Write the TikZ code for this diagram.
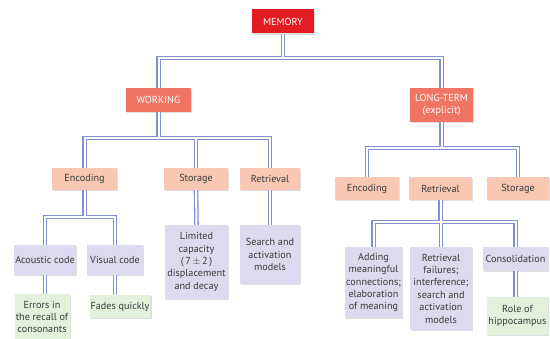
\documentclass[tikz,border=0pt]{standalone}
\usepackage{fontspec}
\setmainfont{PT Sans}
\usetikzlibrary{shadows}
\definecolor{memred}{HTML}{E31B23}
\definecolor{subred}{HTML}{EF7463}
\definecolor{peach}{HTML}{F8C8B5}
\definecolor{lav}{HTML}{DDD9EE}
\definecolor{mint}{HTML}{E3F1DA}
\definecolor{linkblue}{HTML}{8192D2}
\definecolor{txtgray}{HTML}{3A3A3A}
\begin{document}
\begin{tikzpicture}[x=1pt, y=-1pt, font=\fontsize{10.2}{12.4}\selectfont,
  box/.style={rectangle, inner sep=1pt, align=center, text=txtgray,
    drop shadow={shadow xshift=1.2pt, shadow yshift=-1.2pt, opacity=0.25}},
  topbox/.style={box, fill=memred, text=white},
  midbox/.style={box, fill=subred, text=white},
  subbox/.style={box, fill=peach},
  infobox/.style={box, fill=lav},
  leafbox/.style={box, fill=mint},
  link/.style={draw=linkblue, line width=1.3pt, double=white, double distance=2pt}]
\fill[white] (0,0) rectangle (550,339);
\useasboundingbox (0,0) rectangle (550,339);
% top levels
\node[topbox, minimum width=62pt, minimum height=24pt] (mem) at (283,21.5) {MEMORY};
\node[midbox, minimum width=65pt, minimum height=24pt] (work) at (158.5,100) {WORKING};
\node[midbox, minimum width=63pt, minimum height=34pt] (lt) at (441.5,105) {LONG-TERM\\(explicit)};
% working memory
\node[subbox, minimum width=65pt, minimum height=22pt] (wenc) at (84.5,179) {Encoding};
\node[subbox, minimum width=64pt, minimum height=22pt] (wsto) at (196,179) {Storage};
\node[subbox, minimum width=60pt, minimum height=22pt] (wret) at (270,179) {Retrieval};
\node[infobox, minimum width=61pt, minimum height=30pt] (acou) at (45,260) {Acoustic code};
\node[infobox, minimum width=56pt, minimum height=30pt] (visu) at (115,260) {Visual code};
\node[leafbox, minimum width=55pt, minimum height=46pt] (errs) at (42,317) {Errors in\\the recall of\\consonants};
\node[leafbox, minimum width=56pt, minimum height=23pt] (fade) at (120,306.5) {Fades quickly};
\node[infobox, minimum width=63pt, minimum height=74pt] (capa) at (196.5,262) {Limited\\capacity\\(\,7\,$\pm$\,2\,)\\displacement\\and decay};
\node[infobox, minimum width=60pt, minimum height=59pt] (srch) at (270,254.5) {Search and\\activation\\models};
% long-term memory
\node[subbox, minimum width=64pt, minimum height=23pt] (lenc) at (367,188.5) {Encoding};
\node[subbox, minimum width=63pt, minimum height=23pt] (lret) at (440.5,188.5) {Retrieval};
\node[subbox, minimum width=62pt, minimum height=23pt] (lsto) at (518,188.5) {Storage};
\node[infobox, minimum width=57pt, minimum height=71pt] (addm) at (373.5,282.5) {Adding\\meaningful\\connections;\\elaboration\\of meaning};
\node[infobox, minimum width=62pt, minimum height=83pt] (fail) at (441,288.5) {Retrieval\\failures;\\interference;\\search and\\activation\\models};
\node[infobox, minimum width=65pt, minimum height=24pt] (cons) at (515.5,259) {Consolidation};
\node[leafbox, minimum width=61pt, minimum height=38pt] (hipp) at (517.5,316) {Role of\\hippocampus};
% connectors
\draw[link] (mem.south) -- (mem.south |- 0,58) -| (work.north)
  (mem.south |- 0,58) -| (lt.north);
\draw[link] (work.south) -- (work.south |- 0,138) -| (wenc.north)
  (work.south |- 0,138) -| (wsto.north)
  (work.south |- 0,138) -| (wret.north);
\draw[link] (lt.south) -- (lt.south |- 0,148) -| (lenc.north)
  (lt.south |- 0,148) -| (lsto.north);
\draw[link] (wenc.south) -- (wenc.south |- 0,217) -| (acou.north)
  (wenc.south |- 0,217) -| (visu.north);
\draw[link] (lret.south) -- (lret.south |- 0,222) -| (addm.north)
  (lret.south |- 0,222) -| (fail.north)
  (lret.south |- 0,222) -| (cons.north);
\draw[link] (acou.south) -- (acou.south |- errs.north);
\draw[link] (visu.south) -- (visu.south |- fade.north);
\draw[link] (wsto.south) -- (capa.north);
\draw[link] (wret.south) -- (srch.north);
\draw[link] (cons.south) -- (cons.south |- hipp.north);
\end{tikzpicture}
\end{document}
